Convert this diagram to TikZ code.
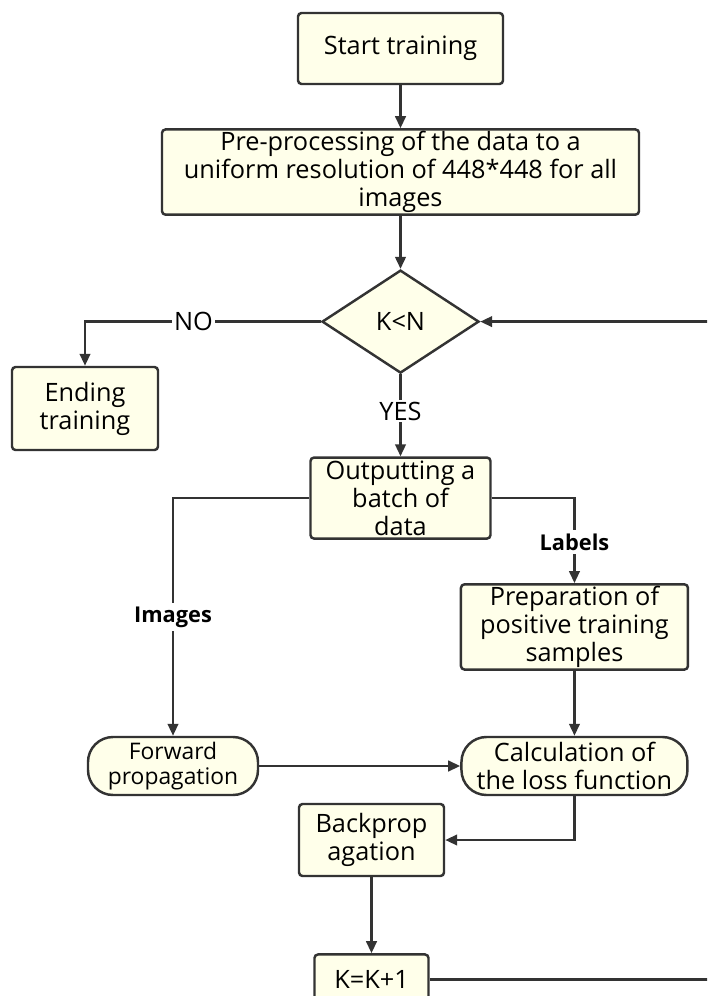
\documentclass[tikz,border=0pt]{standalone}
\usepackage{fontspec}
\setmainfont{Open Sans}
\usetikzlibrary{arrows.meta,positioning,shapes.geometric}

\definecolor{boxfill}{RGB}{255,255,234}
\definecolor{boxline}{RGB}{51,51,51}

\begin{document}
\begin{tikzpicture}[
    stepbox/.style={rectangle, rounded corners=2pt, draw=boxline, fill=boxfill, line width=1.4pt, align=center, inner sep=1pt, font=\fontsize{14.4}{16}\selectfont},
    roundbox/.style={stepbox, rounded corners=0.5cm},
    decision/.style={diamond, draw=boxline, fill=boxfill, line width=1.4pt, inner sep=0pt, minimum width=3.14cm, minimum height=2.06cm, font=\fontsize{14.4}{16}\selectfont},
    arrow/.style={-{Triangle[length=2.4mm, width=2.1mm]}, line width=1.4pt, draw=boxline},
    tag/.style={fill=white, inner sep=1pt, font=\fontsize{14.4}{16}\selectfont},
    btag/.style={fill=white, inner sep=2pt, font=\bfseries\fontsize{12.4}{14}\selectfont}
  ]
    \useasboundingbox (0,0) rectangle (14.14,-19.92);
    \clip (0,0) rectangle (14.14,-19.92);
    \node[stepbox, minimum width=4.1cm, minimum height=1.42cm] (start) at (8.01,-0.97) {Start training};
    \node[stepbox, minimum width=9.54cm, minimum height=1.66cm, below=0.86cm of start] (prep) {Pre-processing of the data to a\\uniform resolution of 448*448 for all\\images};
    \node[decision, below=1.06cm of prep] (cond) {K<N};
    \node[stepbox, minimum width=2.92cm, minimum height=1.66cm] (ending) at (1.70,-8.17) {Ending\\training};
    \node[stepbox, minimum width=3.6cm, minimum height=1.62cm, below=1.64cm of cond] (batch) {Outputting a\\batch of\\data};
    \node[roundbox, minimum width=3.4cm, minimum height=1.16cm, font=\fontsize{13}{14.5}\selectfont] (forward) at (3.46,-15.32) {Forward\\propagation};
    \node[roundbox, minimum width=4.52cm, minimum height=1.16cm, right=4.02cm of forward] (loss) {Calculation of\\the loss function};
    \node[stepbox, minimum width=4.54cm, minimum height=1.68cm, above=1.3cm of loss] (prepos) {Preparation of\\positive training\\samples};
    \node[stepbox, minimum width=2.9cm, minimum height=1.44cm] (backprop) at (7.43,-16.8) {Backprop\\agation};
    \node[stepbox, minimum width=2.28cm, minimum height=1.0cm, below=1.52cm of backprop] (kinc) {K=K+1};
    \coordinate[right=4.8cm of cond.east] (loopr);

    \draw[arrow] (start) -- (prep);
    \draw[arrow] (prep) -- (cond);
    \draw[arrow] (cond.west) -| node[tag, pos=0.27] {NO} (ending.north);
    \draw[arrow] (cond.south) -- node[tag, pos=0.45] {YES} (batch.north);
    \draw[arrow] (batch.west) -| node[btag, pos=0.75] {Images} (forward.north);
    \draw[arrow] (batch.east) -| node[btag, pos=0.76] {Labels} (prepos.north);
    \draw[arrow] (prepos) -- (loss);
    \draw[arrow] (forward) -- (loss);
    \draw[arrow] (loss.south) |- (backprop.east);
    \draw[arrow] (backprop) -- (kinc);
    \draw[arrow] (kinc.east) -| (loopr) -- (cond.east);
  \end{tikzpicture}
\end{document}
